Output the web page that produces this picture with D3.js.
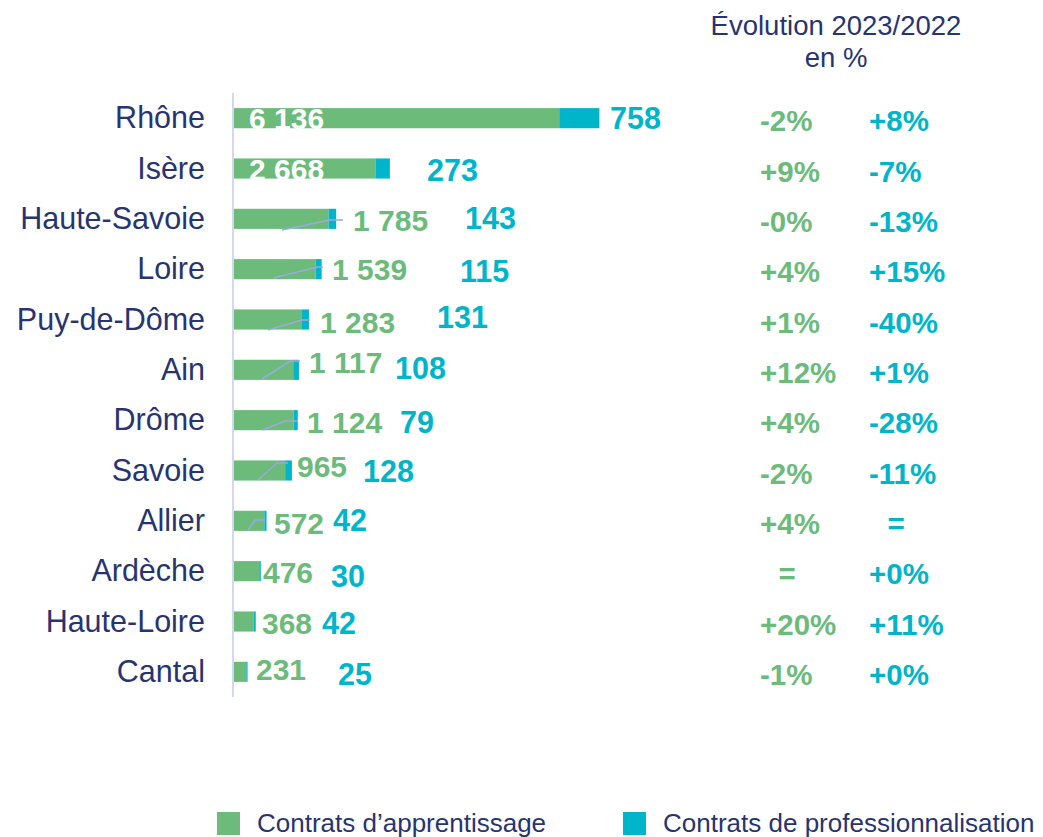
<!DOCTYPE html>
<html>
<head>
  <meta charset="utf-8">
  <script src="https://d3js.org/d3.v7.min.js"></script>
</head>

<style>
body {
  margin: 0;
  background: #ffffff;
}
text {
  font-family: "Liberation Sans", Arial, sans-serif;
}
</style>

<body>
</body>

<script>
    // data
    var departements = ["Rhône", "Isère", "Haute-Savoie", "Loire", "Puy-de-Dôme", "Ain",
      "Drôme", "Savoie", "Allier", "Ardèche", "Haute-Loire", "Cantal"];
    var apprentissage = [6136, 2668, 1785, 1539, 1283, 1117, 1124, 965, 572, 476, 368, 231];
    var professionnalisation = [758, 273, 143, 115, 131, 108, 79, 128, 42, 30, 42, 25];
    var evolApprentissage = ["-2%", "+9%", "-0%", "+4%", "+1%", "+12%", "+4%", "-2%", "+4%", "=", "+20%", "-1%"];
    var evolProfessionnalisation = ["+8%", "-7%", "-13%", "+15%", "-40%", "+1%", "-28%", "-11%", "=", "+0%", "+11%", "+0%"];
    var seriesNames = ["Contrats d\u2019apprentissage", "Contrats de professionnalisation"];

    // label placement (pixels), as hand-placed in the original
    var labelApp = [[249, 0], [249, 0], [353, 1], [332, 0], [320, 2], [309, -8], [307, 2], [297, -5], [274, 2], [263, 1], [262, 1], [256, -3]];
    var labelPro = [[610, 0], [427, 1], [465, -1], [460, 2], [437, -3], [395, -2], [400, 2], [363, 0], [333, -1], [331, 5], [322, 1], [338, 2]];
    var leaders = [null, null, [282, 230, 330, 220, 343], [273, 278, 318, 267, 323], [268, 330, 302, 320, 310],
      [262, 379, 290, 361, 300], [263, 430, 285, 421, 297], [258, 480, 277, 463, 288], [248, 530, 255, 520, 265],
      null, null, null];

    var green = "#6cbb7b",
        teal = "#00b5c9",
        navy = "#27346f";

    var width = 1043, height = 837;

    var svg = d3.select("body")
      .append("svg")
      .attr("width", width)
      .attr("height", height);

    var x = d3.scaleLinear()
      .domain([0, 1000])
      .range([234, 234 + 53]);

    var y = d3.scaleBand()
      .domain(departements)
      .range([93, 697])
      .paddingInner(0.6)
      .paddingOuter(0.3);

    var fr = d3.formatLocale({decimal: ",", thousands: "\u00a0", grouping: [3], currency: ["", " €"]});
    var fmt = fr.format(",d");

    // axis line
    svg.append("line")
      .attr("x1", 233).attr("x2", 233)
      .attr("y1", 93).attr("y2", 697)
      .attr("stroke", "#d3d8f0")
      .attr("stroke-width", 2);

    // category labels
    svg.selectAll(".cat")
      .data(departements)
      .enter()
      .append("text")
      .attr("x", 205)
      .attr("y", function(d) { return y(d) + y.bandwidth() / 2 + 10; })
      .attr("text-anchor", "end")
      .attr("font-size", 30.5)
      .attr("fill", navy)
      .text(function(d) { return d; });

    // bars
    var rows = departements.map(function(d, i) {
      return {dep: d, a: apprentissage[i], p: professionnalisation[i], i: i};
    });

    svg.selectAll(".barA")
      .data(rows)
      .enter()
      .append("rect")
      .attr("x", x(0))
      .attr("y", function(d) { return y(d.dep); })
      .attr("width", function(d) { return x(d.a) - x(0); })
      .attr("height", y.bandwidth())
      .attr("fill", green);

    svg.selectAll(".barP")
      .data(rows)
      .enter()
      .append("rect")
      .attr("x", function(d) { return x(d.a); })
      .attr("y", function(d) { return y(d.dep); })
      .attr("width", function(d) { return x(d.a + d.p) - x(d.a); })
      .attr("height", y.bandwidth())
      .attr("fill", teal);

    // leader lines
    svg.selectAll(".leader")
      .data(leaders.filter(function(d) { return d; }))
      .enter()
      .append("polyline")
      .attr("points", function(d) {
        return [[d[0], d[1]], [d[2], d[3]], [d[4], d[3]]].join(" ");
      })
      .attr("fill", "none")
      .attr("stroke", "#9ea8e0")
      .attr("stroke-width", 1.5);

    // value labels
    svg.selectAll(".valA")
      .data(rows)
      .enter()
      .append("text")
      .attr("x", function(d) { return labelApp[d.i][0]; })
      .attr("y", function(d) { return y(d.dep) + y.bandwidth() / 2 + 11 + labelApp[d.i][1]; })
      .attr("font-size", 30)
      .attr("font-weight", "bold")
      .attr("fill", function(d) { return d.i < 2 ? "#ffffff" : green; })
      .text(function(d) { return fmt(d.a); });

    svg.selectAll(".valP")
      .data(rows)
      .enter()
      .append("text")
      .attr("x", function(d) { return labelPro[d.i][0]; })
      .attr("y", function(d) { return y(d.dep) + y.bandwidth() / 2 + 11 + labelPro[d.i][1]; })
      .attr("font-size", 30.5)
      .attr("font-weight", "bold")
      .attr("fill", teal)
      .text(function(d) { return fmt(d.p); });

    // evolution columns
    function evolCol(values, x0, color) {
      svg.selectAll(null)
        .data(values)
        .enter()
        .append("text")
        .attr("x", function(d) { return d === "=" ? x0 + 27 : x0; })
        .attr("y", function(d, i) { return y(departements[i]) + y.bandwidth() / 2 + 13; })
        .attr("text-anchor", function(d) { return d === "=" ? "middle" : "start"; })
        .attr("font-size", 29.5)
        .attr("font-weight", "bold")
        .attr("fill", color)
        .text(function(d) { return d; });
    }
    evolCol(evolApprentissage, 760, green);
    evolCol(evolProfessionnalisation, 869, teal);

    // column title
    svg.append("text")
      .attr("x", 836)
      .attr("y", 35)
      .attr("text-anchor", "middle")
      .attr("font-size", 27.5)
      .attr("fill", navy)
      .text("Évolution 2023/2022");

    svg.append("text")
      .attr("x", 836)
      .attr("y", 67)
      .attr("text-anchor", "middle")
      .attr("font-size", 27.5)
      .attr("fill", navy)
      .text("en %");

    // legend
    var legendX = [217, 623];
    var legend = svg.selectAll(".legend")
      .data(seriesNames)
      .enter()
      .append("g")
      .attr("transform", function(d, i) { return "translate(" + legendX[i] + ",812)"; });

    legend.append("rect")
      .attr("width", 23)
      .attr("height", 23)
      .attr("fill", function(d, i) { return i === 0 ? green : teal; });

    legend.append("text")
      .attr("x", 40)
      .attr("y", 20)
      .attr("font-size", 26)
      .attr("fill", navy)
      .text(function(d) { return d; });
</script>
</html>
